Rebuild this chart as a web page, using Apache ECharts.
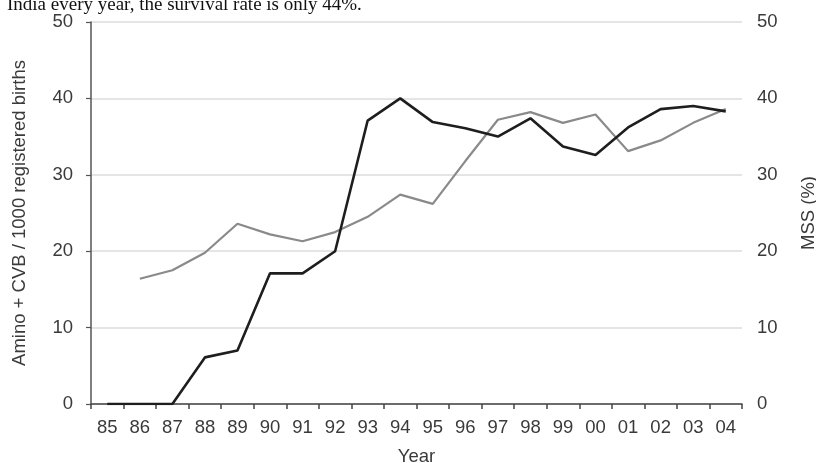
<!DOCTYPE html>
<html>
<head>
<meta charset="utf-8">
<script src="https://cdn.jsdelivr.net/npm/echarts@6/dist/echarts.min.js"></script>
<style>html,body{margin:0;padding:0;background:#fff}#c{width:816px;height:463px}</style>
</head>
<body>
<div id="c"></div>
<script>
const years = ['85','86','87','88','89','90','91','92','93','94','95','96','97','98','99','00','01','02','03','04'];
const aminoCvb = [0,0,0,6.1,7,17.1,17.1,20,37.1,40,36.9,36.1,35,37.4,33.7,32.6,36.2,38.6,39,38.3];
const mss = [null,16.4,17.5,19.8,23.6,22.2,21.3,22.5,24.5,27.4,26.2,31.8,37.2,38.2,36.8,37.9,33.1,34.5,36.8,38.6];
const yTicksMin = 0, yTicksMax = 50, yTickStep = 10;
const captionText = 'India every year, the survival rate is only 44%.';

const chart = echarts.init(document.getElementById('c'), null, {renderer:'canvas'});
const labelFont = {color:'#3a3a3a', fontFamily:'Liberation Sans, Arial, sans-serif', fontSize:18.5};
chart.setOption({
  animation:false,
  backgroundColor:'#fff',
  graphic:[{
    type:'text', left:7, top:-4,
    style:{text:captionText, font:'19px "Liberation Serif", "Times New Roman", serif', fill:'#111'}
  }],
  grid:{left:91, right:74, top:22, bottom:59, containLabel:false, outerBoundsMode:'none'},
  xAxis:{
    type:'category', data:years, boundaryGap:true,
    name:'Year', nameLocation:'middle', nameGap:43,
    nameTextStyle:{...labelFont},
    axisLine:{lineStyle:{color:'#444', width:1.5}},
    axisTick:{show:true, length:5, inside:false, alignWithLabel:false, lineStyle:{color:'#444', width:1.5}},
    axisLabel:{...labelFont, margin:14},
    splitLine:{show:false}
  },
  yAxis:[{
    type:'value', min:yTicksMin, max:yTicksMax, interval:yTickStep, position:'left',
    name:'Amino + CVB / 1000 registered births', nameLocation:'middle', nameGap:62,
    nameTextStyle:{...labelFont},
    axisLine:{show:true, lineStyle:{color:'#555', width:1.5}},
    axisTick:{show:true, length:5, lineStyle:{color:'#555', width:1.2}},
    axisLabel:{...labelFont, margin:18},
    splitLine:{show:true, lineStyle:{color:'#dcdcdc', width:1.5}}
  },{
    type:'value', min:yTicksMin, max:yTicksMax, interval:yTickStep, position:'right',
    name:'MSS (%)', nameLocation:'middle', nameGap:57, nameRotate:90,
    nameTextStyle:{...labelFont},
    axisLine:{show:false}, axisTick:{show:false},
    axisLabel:{...labelFont, margin:15},
    splitLine:{show:false}
  }],
  series:[{
    type:'line', data:mss, yAxisIndex:1, symbol:'none',
    lineStyle:{color:'#8a8a8a', width:2.2}, z:2
  },{
    type:'line', data:aminoCvb, yAxisIndex:0, symbol:'none',
    lineStyle:{color:'#1e1e1e', width:2.6}, z:3
  }]
});
</script>
</body>
</html>
